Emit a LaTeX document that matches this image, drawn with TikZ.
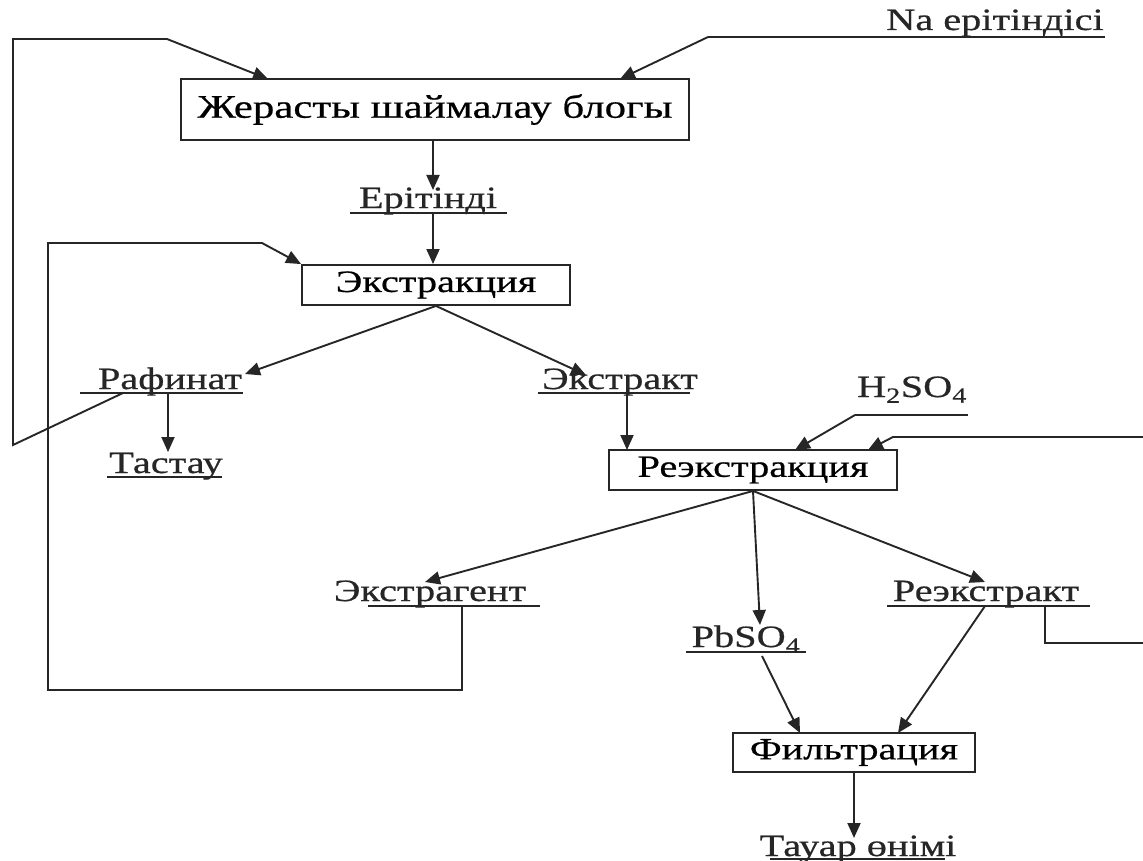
\documentclass[tikz,border=0pt]{standalone}
\usepackage{fontspec}
\setmainfont{Liberation Serif}[FakeStretch=1.3,FakeBold=0.6]
\usetikzlibrary{arrows.meta}
\begin{document}
\begin{tikzpicture}[x=1pt,y=-1pt,
  line width=1.9pt, draw=black!85,
  arr/.style={-{Triangle[length=15pt,width=13pt]}},
  procbox/.style={draw, rectangle, inner sep=0pt, font=\fontsize{31}{34}\selectfont},
  lbl/.style={inner sep=0pt, anchor=base, text=black!85, font=\fontsize{31}{34}\selectfont}]
\useasboundingbox (0,0) rectangle (1143,861);
% boxes
\node[procbox, minimum width=508pt, minimum height=61pt, font=\fontsize{33}{36}\selectfont] (b1) at (435,109.5) {Жерасты шаймалау блогы};
\node[procbox, minimum width=268pt, minimum height=40pt] (ex) at (436,285) {Экстракция};
\node[procbox, minimum width=288pt, minimum height=40pt] (rex) at (753,470) {Реэкстракция};
\node[procbox, minimum width=242pt, minimum height=39pt] (fil) at (854,752.5) {Фильтрация};
% labels
\node[lbl] (na) at (995,30) {Na ерітіндісі};
\node[lbl] (er) at (428,208) {Ерітінді};
\node[lbl] (raf) at (170,389) {Рафинат};
\node[lbl] (tas) at (166,473) {Тастау};
\node[lbl] (ekt) at (620,389) {Экстракт};
\node[lbl] (h2) at (912,397) {H\textsubscript{2}SO\textsubscript{4}};
\node[lbl] (eag) at (430,601) {Экстрагент};
\node[lbl] (pb) at (746,647) {PbSO\textsubscript{4}};
\node[lbl] (rek) at (986,601) {Реэкстракт};
\node[lbl] (tau) at (858,856) {Тауар өнімі};
% underline coordinates
\coordinate (naL) at (708,37);   \coordinate (naR) at (1105,37);
\coordinate (erL) at (350,213);  \coordinate (erR) at (507,213);
\coordinate (rafL) at (80,393);  \coordinate (rafR) at (243,393);
\coordinate (tasL) at (107,477); \coordinate (tasR) at (222,477);
\coordinate (ektL) at (538,393); \coordinate (ektR) at (690,393);
\coordinate (h2L) at (855,415);  \coordinate (h2R) at (968,415);
\coordinate (eagL) at (368,606); \coordinate (eagR) at (540,606);
\coordinate (pbL) at (686,652);  \coordinate (pbR) at (806,652);
\coordinate (rekL) at (887,606); \coordinate (rekR) at (1090,606);
\coordinate (tauL) at (770,859); \coordinate (tauR) at (945,859);
\foreach \u in {na,er,raf,tas,ekt,h2,eag,pb,rek,tau} {\draw (\u L) -- (\u R);}
% connectors
\draw[arr] (naL) -- (620,79);
\draw[arr] (b1.south -| 433,0) -- (433,190);
\draw[arr] (433,213) -- (ex.north -| 433,0);
\draw[arr] (ex.south) -- (245,374);
\draw[arr] (ex.south) -- (586,375);
\draw[arr] (168,393) -- (168,452);
\draw[arr] (627,393) -- (627,450);
\draw[arr] (h2L) -- (795,450);
\draw[arr] (1143,437) -- (893,437) -- (868,450);
\draw[arr] (rex.south) -- (425,582);
\draw[arr] (rex.south) -- (760,625);
\draw[arr] (rex.south) -- (985,582);
\draw[arr] (762,656) -- (800,733);
\draw[arr] (985,606) -- (898,733);
\draw[arr] (fil.south) -- (854,838);
% loops
\draw[arr] (123,393) -- (13,445) -- (13,39) -- (167,39) -- (268,79);
\draw[arr] (462,606) -- (462,690) -- (48,690) -- (48,243) -- (262,243) -- (ex.north west);
\draw (1045,606) -- (1045,643) -- (1143,643);
\end{tikzpicture}
\end{document}
